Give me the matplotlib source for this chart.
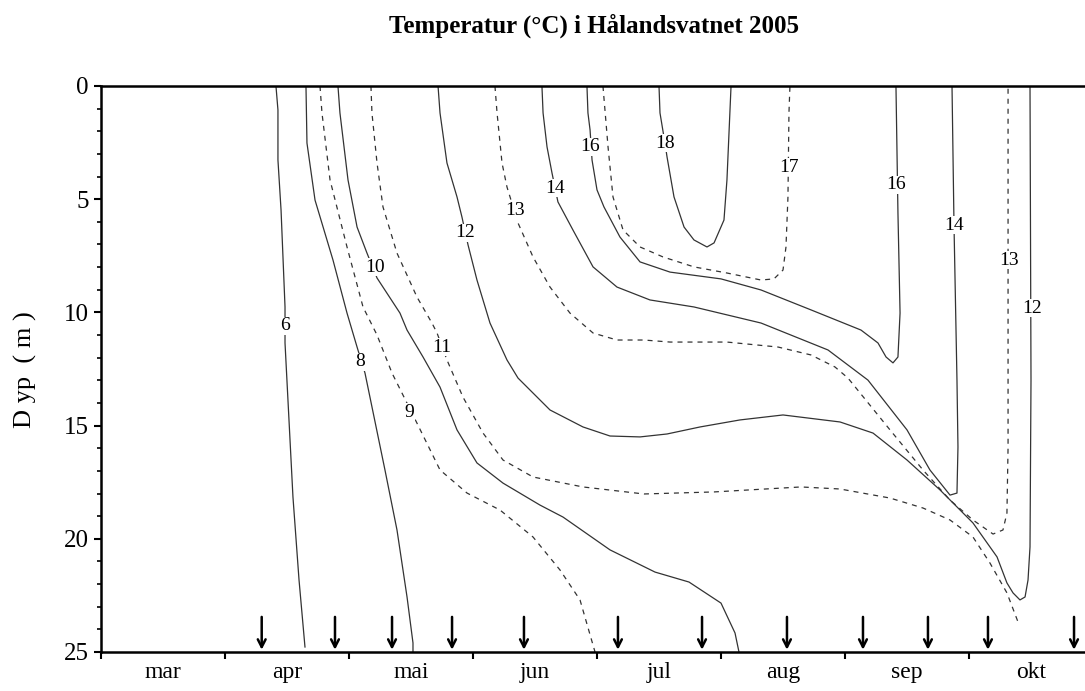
import matplotlib
matplotlib.use("Agg")
import matplotlib.pyplot as plt
from matplotlib.ticker import FixedLocator, NullFormatter, FixedFormatter

plt.rcParams["font.family"] = ["Liberation Serif", "DejaVu Serif"]

MONTHS = ["mar", "apr", "mai", "jun", "jul", "aug", "sep", "okt"]
# sampling dates, in months since 1 March
SAMPLE_DATES = [1.296, 1.887, 2.347, 2.831, 3.411, 4.169, 4.847, 5.532,
                6.145, 6.669, 7.153, 7.847]

# isotherms: x = months since 1 March, depth in m
T6_X = [1.411, 1.427, 1.427, 1.452, 1.484, 1.484, 1.548, 1.597, 1.645]
T6_D = [0.0, 1.06, 3.27, 5.48, 9.76, 11.35, 18.15, 21.82, 24.78]

T8_X = [1.653, 1.661, 1.726, 1.871, 1.984, 2.065, 2.129, 2.290, 2.387, 2.468, 2.516, 2.516]
T8_D = [0.0, 2.52, 5.04, 7.69, 10.03, 11.53, 12.68, 16.96, 19.61, 22.57, 24.60, 25.0]

T9_X = [1.766, 1.782, 1.847, 1.984, 2.113, 2.226, 2.347, 2.548, 2.734, 2.952, 3.218,
        3.484, 3.702, 3.863, 3.984]
T9_D = [0.0, 1.19, 4.15, 7.11, 9.76, 11.0, 12.68, 14.89, 16.96, 17.98, 18.73,
        19.92, 21.38, 22.7, 25.0]

T10_X = [1.911, 1.927, 1.992, 2.065, 2.145, 2.226, 2.411, 2.468, 2.597, 2.734, 2.871,
         3.032, 3.242, 3.540, 3.726, 4.105, 4.468, 4.742, 5.000, 5.113, 5.145]
T10_D = [0.0, 1.19, 4.15, 6.23, 7.38, 8.48, 10.03, 10.78, 11.97, 13.30, 15.19,
         16.65, 17.54, 18.51, 19.04, 20.49, 21.47, 21.91, 22.84, 24.16, 25.0]

T11_X = [2.177, 2.185, 2.226, 2.274, 2.387, 2.548, 2.669, 2.710, 2.790, 2.919, 3.081,
         3.242, 3.484, 3.887, 4.379, 4.944, 5.645, 5.960, 6.363, 6.629, 6.847, 7.032,
         7.169, 7.306, 7.395]
T11_D = [0.0, 1.19, 3.40, 5.34, 7.38, 9.32, 10.47, 10.91, 12.10, 13.74, 15.33,
         16.52, 17.27, 17.71, 18.02, 17.93, 17.71, 17.80, 18.20, 18.64, 19.17, 19.92,
         21.07, 22.39, 23.67]

T12_X = [2.718, 2.734, 2.790, 2.871, 2.911, 2.960, 3.032, 3.137, 3.274, 3.363, 3.621,
         3.887, 4.105, 4.347, 4.565, 4.831, 5.153, 5.500, 5.960, 6.226, 6.500, 6.766,
         7.032, 7.226, 7.306, 7.355, 7.411, 7.452, 7.476, 7.492, 7.500, 7.492]
T12_D = [0.0, 1.19, 3.40, 4.90, 5.79, 7.02, 8.57, 10.47, 12.10, 12.90, 14.31,
         15.06, 15.46, 15.50, 15.37, 15.06, 14.75, 14.53, 14.84, 15.33, 16.52, 17.84,
         19.30, 20.80, 21.95, 22.39, 22.70, 22.57, 21.82, 20.36, 12.99, 0.0]

T13_X = [3.177, 3.194, 3.234, 3.274, 3.363, 3.484, 3.621, 3.782, 3.968, 4.161, 4.379,
         4.589, 5.048, 5.460, 5.726, 5.919, 6.024, 6.363, 6.629, 6.847, 7.032, 7.194,
         7.274, 7.306, 7.315, 7.315]
T13_D = [0.0, 1.19, 3.40, 4.46, 6.05, 7.55, 8.88, 10.03, 10.91, 11.22, 11.22,
         11.31, 11.31, 11.53, 11.88, 12.41, 12.90, 15.19, 16.96, 18.29, 19.17, 19.79,
         19.61, 18.86, 15.95, 0.0]

T14_X = [3.556, 3.565, 3.597, 3.637, 3.685, 3.806, 3.968, 4.161, 4.427, 4.782, 5.323,
         5.863, 6.185, 6.500, 6.685, 6.847, 6.903, 6.911, 6.903, 6.879, 6.863]
T14_D = [0.0, 1.19, 2.69, 3.84, 5.12, 6.36, 7.99, 8.88, 9.45, 9.76, 10.47,
         11.66, 12.99, 15.19, 16.96, 18.07, 17.98, 15.95, 12.99, 6.14, 0.0]

T16_X = [3.919, 3.927, 3.944, 3.960, 4.000, 4.056, 4.185, 4.347, 4.589, 5.000, 5.323,
         5.726, 6.129, 6.266, 6.331, 6.387, 6.427, 6.444, 6.427, 6.411]
T16_D = [0.0, 1.19, 1.94, 3.27, 4.59, 5.34, 6.67, 7.77, 8.22, 8.52, 9.01,
         9.89, 10.78, 11.35, 11.97, 12.23, 11.97, 10.03, 5.61, 0.0]

T17_X = [4.048, 4.089, 4.129, 4.210, 4.347, 4.532, 4.782, 5.048, 5.323, 5.427, 5.500,
         5.524, 5.540, 5.548, 5.556]
T17_D = [0.0, 2.69, 4.90, 6.36, 7.11, 7.55, 7.99, 8.26, 8.57, 8.52, 8.13,
         7.11, 4.90, 1.19, 0.0]

T18_X = [4.500, 4.508, 4.548, 4.565, 4.621, 4.702, 4.782, 4.887, 4.944, 5.024, 5.048, 5.081]
T18_D = [0.0, 1.19, 2.52, 3.14, 4.90, 6.23, 6.80, 7.11, 6.93, 5.92, 4.15, 0.0]

# (temperature, x, depth) of the inline contour labels
LABELS = [(6, 1.484, 10.6), (8, 2.089, 12.19), (9, 2.484, 14.4), (10, 2.210, 8.0),
          (11, 2.750, 11.53), (12, 2.935, 6.49), (12, 7.508, 9.81),
          (13, 3.339, 5.48), (13, 7.323, 7.69), (14, 3.661, 4.51), (14, 6.879, 6.14),
          (16, 3.944, 2.69), (16, 6.411, 4.37), (17, 5.548, 3.58), (18, 4.548, 2.52)]

ISOTHERMS = [
    (T6_X, T6_D, "solid"), (T8_X, T8_D, "solid"), (T9_X, T9_D, "dashed"),
    (T10_X, T10_D, "solid"), (T11_X, T11_D, "dashed"), (T12_X, T12_D, "solid"),
    (T13_X, T13_D, "dashed"), (T14_X, T14_D, "solid"), (T16_X, T16_D, "solid"),
    (T17_X, T17_D, "dashed"), (T18_X, T18_D, "solid"),
]

fig = plt.figure(figsize=(10.85, 6.91), dpi=100)
ax = fig.add_axes([101 / 1085, 39 / 691, 992 / 1085, 566 / 691])

for xs, ds, style in ISOTHERMS:
    if style == "dashed":
        ax.plot(xs, ds, color="#333333", lw=0.9, linestyle=(0, (4, 4)))
    else:
        ax.plot(xs, ds, color="#333333", lw=0.9)

for val, x, d in LABELS:
    ax.text(x, d, str(val), ha="center", va="center", fontsize=14, zorder=5,
            bbox=dict(facecolor="white", edgecolor="none", pad=0.5))

for x in SAMPLE_DATES:
    ax.annotate("", xy=(x, 24.9), xytext=(x, 23.45),
                arrowprops=dict(arrowstyle="->,head_length=0.55,head_width=0.28",
                                lw=1.8, color="black", shrinkA=0, shrinkB=0))

ax.set_xlim(0, 8)
ax.set_ylim(25, 0)

ax.spines["right"].set_visible(False)
for side in ("left", "top", "bottom"):
    ax.spines[side].set_linewidth(1.8)

ax.yaxis.set_major_locator(FixedLocator([0, 5, 10, 15, 20, 25]))
ax.yaxis.set_minor_locator(FixedLocator([d for d in range(26) if d % 5]))
ax.tick_params(axis="y", which="major", length=5, width=1.5, labelsize=18, pad=4)
ax.tick_params(axis="y", which="minor", length=3, width=1.2)

ax.xaxis.set_major_locator(FixedLocator(range(9)))
ax.xaxis.set_major_formatter(NullFormatter())
ax.xaxis.set_minor_locator(FixedLocator([i + 0.5 for i in range(8)]))
ax.xaxis.set_minor_formatter(FixedFormatter(MONTHS))
ax.tick_params(axis="x", which="major", length=5, width=1.5)
ax.tick_params(axis="x", which="minor", length=0, labelsize=17, pad=7)

fig.text(25 / 1085, 1 - 370 / 691, "D yp  ( m )", rotation=90, ha="center",
         va="center", fontsize=19)
fig.text(594 / 1085, 1 - 26 / 691, "Temperatur (\u00b0C) i H\u00e5landsvatnet 2005",
         ha="center", va="center", fontsize=18, fontweight="bold")

fig.savefig("out.png", dpi=100)
